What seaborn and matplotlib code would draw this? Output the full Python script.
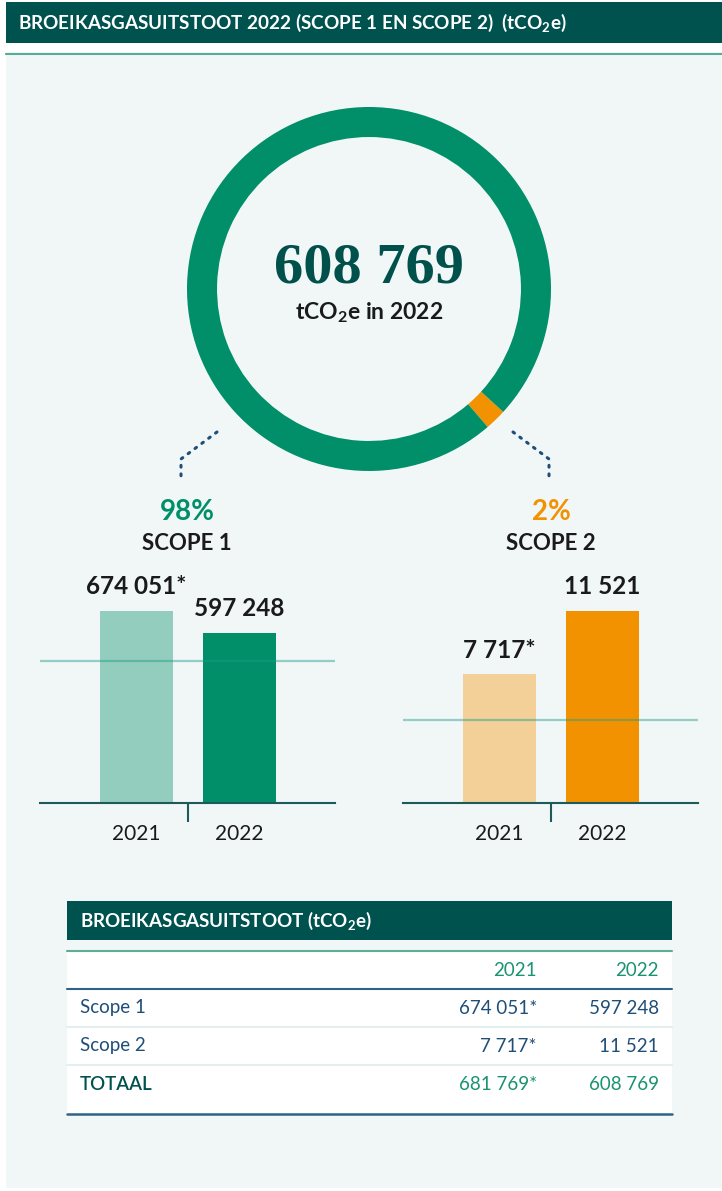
import pandas as pd
import matplotlib.pyplot as plt
import seaborn as sns
from matplotlib.lines import Line2D
from matplotlib.patches import Rectangle

sns.set_theme(style="white")
plt.rcParams['font.family'] = ['Lato', 'DejaVu Sans']
plt.rcParams['mathtext.fontset'] = 'custom'
plt.rcParams['mathtext.rm'] = 'Lato'

# data
years = ['2021', '2022']
scope1_values = [674051, 597248]
scope2_values = [7717, 11521]
scope1_labels = ['674 051*', '597 248']
scope2_labels = ['7 717*', '11 521']
total_labels = ['681 769*', '608 769']
total_2022 = '608 769'
share_labels = ['98%', '2%']
scope_names = ['SCOPE 1', 'SCOPE 2']
grid_values = [500000, 5000]
row_names = ['Scope 1', 'Scope 2', 'TOTAAL']

# colours
DARK_TEAL = '#00524F'
PANEL = '#F1F7F7'
GREEN = '#008F69'
ORANGE = '#F39200'
LIGHT_GREEN = '#93CDBE'
LIGHT_ORANGE = '#F2D098'
NAVY = '#1F4E79'
TXT = '#1A1A1A'
TAB_GREEN = '#1A9370'

W, H = 722, 1191
fig = plt.figure(figsize=(W / 100, H / 100), dpi=100, facecolor='white')


def px_axes(x0, y0, x1, y1):
    return fig.add_axes([x0 / W, 1 - y1 / H, (x1 - x0) / W, (y1 - y0) / H])


# overlay for background, header, connectors and table
bg = px_axes(0, 0, W, H)
bg.set_xlim(0, W)
bg.set_ylim(H, 0)
bg.axis('off')
bg.add_patch(Rectangle((6, 56), W - 6, 1132, color=PANEL, lw=0, zorder=0))
bg.add_patch(Rectangle((6, 2), W - 6, 41, color=DARK_TEAL, lw=0, zorder=1))
bg.add_line(Line2D([6, W], [54, 54], color='#55AD98', lw=1.6))
bg.text(18, 22.5, 'BROEIKASGASUITSTOOT 2022 (SCOPE 1 EN SCOPE 2)  (tCO$_\\mathregular{2}$e)',
        color='white', fontsize=13.6, fontweight='bold', va='center', ha='left')

# dotted connectors from the ring to the scope panels
for xs in ([217, 181, 181], [513, 549, 549]):
    bg.add_line(Line2D(xs, [432, 459, 482], color=NAVY, lw=2.2,
                       linestyle=(0, (0.6, 2.2)), dash_capstyle='round'))

# scope headers
for x, share, name, col in zip([187, 551], share_labels, scope_names, [GREEN, ORANGE]):
    bg.text(x, 512, share, color=col, fontsize=20, fontweight='bold', ha='center', va='center')
    bg.text(x, 544, name, color=TXT, fontsize=16, fontweight='bold', ha='center', va='center')

# donut
ax_d = px_axes(187, 107, 551, 471)
ax_d.pie([scope2_values[1], scope1_values[1]], colors=[ORANGE, GREEN], startangle=-49.3,
         counterclock=True, radius=1, wedgeprops=dict(width=0.165, edgecolor='none'))
ax_d.set_xlim(-1, 1)
ax_d.set_ylim(-1, 1)
ax_d.text(0, 0.11, total_2022, ha='center', va='center', fontsize=42, fontweight='bold',
          family='Liberation Serif', color='#00504B')
ax_d.text(0, -0.13, 'tCO$_\\mathregular{2}$e in 2022', ha='center', va='center',
          fontsize=16.5, fontweight='bold', color=TXT)


# bar panels
def bar_panel(extent, values, labels, palette, grid):
    ax = px_axes(*extent)
    df = pd.DataFrame({'year': years, 'value': values})
    sns.barplot(data=df, x='year', y='value', hue='year', palette=palette, width=0.709,
                saturation=1, legend=False, linewidth=0, ax=ax)
    for cont, lbl in zip(ax.containers, labels):
        ax.bar_label(cont, labels=[lbl], padding=9, fontsize=17.5, fontweight='bold', color=TXT)
    ax.axhline(grid, color='#1E9C88', alpha=0.45, lw=1.6, zorder=5)
    ax.set_ylim(0, max(values) * 1.25)
    ax.set_xlim(-0.937, 1.927)
    ax.set_facecolor('none')
    sns.despine(ax=ax, left=True)
    ax.spines['bottom'].set_color('#1E5A5A')
    ax.spines['bottom'].set_linewidth(1.5)
    ax.set_yticks([])
    ax.set_xlabel('')
    ax.set_ylabel('')
    ax.set_xticks([0.5], minor=True)
    ax.tick_params(axis='x', which='minor', length=13.5, width=1.5, color='#1E5A5A',
                   direction='out', bottom=True)
    ax.tick_params(axis='x', which='major', length=0, pad=15, labelsize=15, labelcolor=TXT)
    return ax


bar_panel((40, 563, 335, 803), scope1_values, scope1_labels, [LIGHT_GREEN, GREEN], grid_values[0])
bar_panel((403, 563, 698, 803), scope2_values, scope2_labels, [LIGHT_ORANGE, ORANGE], grid_values[1])

# table
bg.add_patch(Rectangle((67, 901), 605, 39, color=DARK_TEAL, lw=0))
bg.text(80, 921, 'BROEIKASGASUITSTOOT (tCO$_\\mathregular{2}$e)', color='white',
        fontsize=13.5, fontweight='bold', va='center')
bg.add_patch(Rectangle((67, 950), 605, 165, color='white', lw=0))
for y, col, lw in [(951, '#5AAE98', 1.5), (989, '#2E6388', 1.5), (1027, '#E3EFEF', 1.5),
                   (1065, '#E3EFEF', 1.5), (1114, '#2E6388', 1.8)]:
    bg.add_line(Line2D([67, 672], [y, y], color=col, lw=lw))
col_x = [537, 659]
for x, yr in zip(col_x, years):
    bg.text(x, 970, yr, color=TAB_GREEN, fontsize=13.5, ha='right', va='center')
table_rows = [scope1_labels, scope2_labels, total_labels]
for i, (name, vals) in enumerate(zip(row_names, table_rows)):
    y = 1008 + 38 * i
    is_total = name == 'TOTAAL'
    bg.text(80, y, name, color=DARK_TEAL if is_total else NAVY, fontsize=13.5,
            fontweight='semibold' if is_total else 'normal', va='center')
    for x, v in zip(col_x, vals):
        bg.text(x, y, v, color=TAB_GREEN if is_total else NAVY, fontsize=13.5,
                ha='right', va='center')

fig.savefig('out.png', dpi=100)
